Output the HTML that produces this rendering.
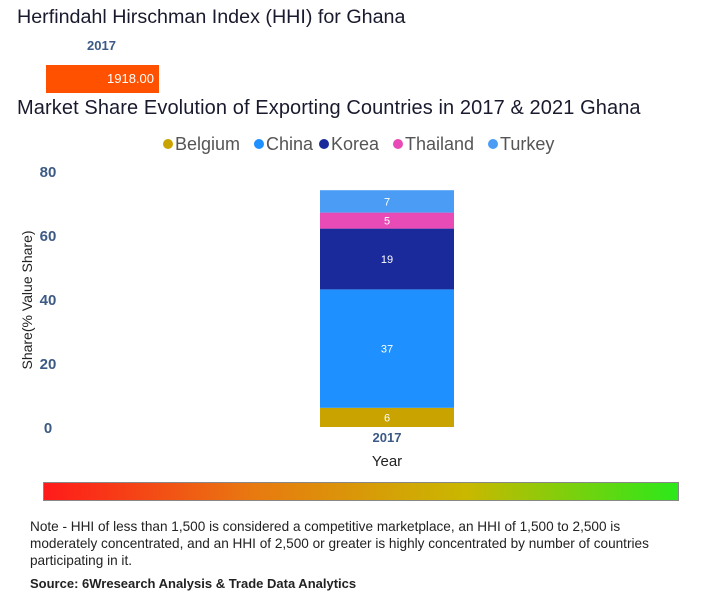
<!DOCTYPE html>
<html><head><meta charset="utf-8"><style>
body{margin:0;width:703px;height:600px;background:#fff;font-family:"Liberation Sans",sans-serif;position:relative;overflow:hidden}
.a{position:absolute;white-space:nowrap}
</style></head><body>
<div class="a" style="left:17px;top:6px;font-size:19.7px;color:#1a1a2e">Herfindahl Hirschman Index (HHI) for Ghana</div>
<div class="a" style="left:87px;top:38px;font-size:13px;font-weight:bold;color:#3b5a85">2017</div>
<div class="a" style="left:46px;top:65px;width:113px;height:28px;background:#ff5100;color:#fff;font-size:13px;line-height:28px;text-align:right;box-sizing:border-box;padding-right:5px">1918.00</div>
<div class="a" style="left:17px;top:97px;font-size:20px;letter-spacing:0.1px;color:#1a1a2e">Market Share Evolution of Exporting Countries in 2017 &amp; 2021 Ghana</div>
<svg class="a" style="left:0;top:125px" width="703" height="350" id="c"></svg>
<div class="a" style="left:43px;top:482px;width:636px;height:19px;background:linear-gradient(to right,#ff1a1a,#e87a10,#c9b800,#2be81a);border:1px solid #888;box-sizing:border-box"></div>
<div class="a" style="left:30px;top:518px;width:640px;white-space:normal;font-size:13.6px;line-height:17px;color:#222">Note - HHI of less than 1,500 is considered a competitive marketplace, an HHI of 1,500 to 2,500 is moderately concentrated, and an HHI of 2,500 or greater is highly concentrated by number of countries participating in it.</div>
<div class="a" style="left:30px;top:576px;font-size:13px;font-weight:bold;color:#222">Source: 6Wresearch Analysis &amp; Trade Data Analytics</div>
<script>
const categories=["2017"];
const seriesNames=["Belgium","China","Korea","Thailand","Turkey"];
const seriesColors=["#c9a400","#1e90ff","#1a2a9a","#e84bb5","#4a9cf5"];
const seriesValues=[[6],[37],[19],[5],[7]];
const yTicks=[0,20,40,60,80];
const svg=document.getElementById('c');
const NS="http://www.w3.org/2000/svg";
const oy=125;
function y(v){return 427-oy-v*3.2;}
function mk(t,a,txt){const e=document.createElementNS(NS,t);for(const k in a)e.setAttribute(k,a[k]);if(txt!=null)e.textContent=txt;svg.appendChild(e);return e;}
let lx=162;
const lw=[91,65,74,95,80];
seriesNames.forEach((n,i)=>{
const c=mk('circle',{cx:lx+6,cy:19,r:5,fill:seriesColors[i]});


const t=mk('text',{x:lx+13,y:25,'font-size':18,fill:'#555'},n);


lx+=lw[i];
});
yTicks.forEach(v=>{
const t=mk('text',{x:48,y:y(v)+6,'font-size':15,'font-weight':'bold',fill:'#3b5a85','text-anchor':'middle'},v);


});
const yt=mk('text',{transform:'translate(32,'+(300-oy)+') rotate(-90)','font-size':14,fill:'#222','text-anchor':'middle'},'Share(% Value Share)');


categories.forEach((cat,ci)=>{
let cum=0;const x0=320,w=134;
seriesValues.forEach((vals,si)=>{
const v=vals[ci];
const r=mk('rect',{x:x0,y:y(cum+v),width:w,height:v*3.2,fill:seriesColors[si]});


const t=mk('text',{x:x0+w/2,y:y(cum+v/2)+4,'font-size':11,fill:'#fff','text-anchor':'middle'},v);


cum+=v;
});
const xl=mk('text',{x:x0+w/2,y:442-oy,'font-size':13,'font-weight':'bold',fill:'#3b5a85','text-anchor':'middle'},cat);


});
const xt=mk('text',{x:387,y:466-oy,'font-size':15,fill:'#222','text-anchor':'middle'},'Year');


</script>
</body></html>
